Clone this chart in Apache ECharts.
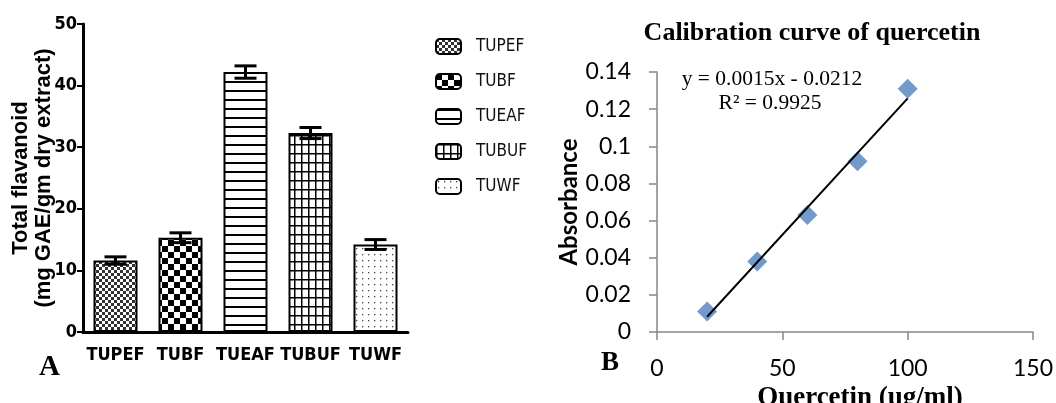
<!DOCTYPE html>
<html>
<head>
<meta charset="utf-8">
<script src="https://cdn.jsdelivr.net/npm/echarts@6/dist/echarts.min.js"></script>
<style>
  html, body { margin: 0; padding: 0; background: #fff; }
  #chart { width: 1056px; height: 403px; }
</style>
</head>
<body>
<div id="chart"></div>
<script>
// Panel A: total flavanoid content of the fractions (mean ± SD)
const categories = ['TUPEF', 'TUBF', 'TUEAF', 'TUBUF', 'TUWF'];
const flavMeans = [11.6, 15.3, 42.2, 32.3, 14.2];
const flavErrors = [0.6, 0.8, 1.0, 0.9, 0.8];
const flavTicks = { min: 0, max: 50, interval: 10 };

// Panel B: quercetin calibration standards
const conc = [20, 40, 60, 80, 100];
const absorb = [0.011, 0.038, 0.063, 0.092, 0.131];
const equationText = 'y = 0.0015x - 0.0212';
const r2Text = 'R² = 0.9925';

const narrow = "'DejaVu Sans Condensed', 'Liberation Sans Narrow', 'Arial Narrow', sans-serif";
const serif = "'Liberation Serif', 'DejaVu Serif', serif";
const sans = "Lato, 'Open Sans', 'Noto Sans', sans-serif";

// hatch fills for the bars
function makePattern(w, h, draw) {
  const c = document.createElement('canvas');
  c.width = w; c.height = h;
  const ctx = c.getContext('2d');
  ctx.fillStyle = '#fff';
  ctx.fillRect(0, 0, w, h);
  ctx.fillStyle = '#000';
  draw(ctx);
  return { image: c, repeat: 'repeat' };
}
const patterns = [
  // fine check
  makePattern(6, 6, ctx => { ctx.fillStyle = '#333'; ctx.fillRect(0, 0, 3, 3); ctx.fillRect(3, 3, 3, 3); }),
  // coarse checkerboard
  makePattern(12, 12, ctx => { ctx.fillRect(0, 0, 6, 6); ctx.fillRect(6, 6, 6, 6); }),
  // horizontal lines
  makePattern(9, 9, ctx => { ctx.fillRect(0, 0, 9, 2); }),
  // grid
  makePattern(7, 9, ctx => { ctx.fillRect(0, 0, 7, 1.5); ctx.fillRect(0, 0, 1.5, 9); }),
  // dots
  makePattern(6, 6, ctx => { ctx.fillStyle = '#444'; ctx.fillRect(2, 2, 1.3, 1.3); })
];

// least-squares trendline through the standards
function linFit(xs, ys) {
  const n = xs.length;
  const mx = xs.reduce((a, b) => a + b, 0) / n;
  const my = ys.reduce((a, b) => a + b, 0) / n;
  let sxy = 0, sxx = 0;
  for (let i = 0; i < n; i++) { sxy += (xs[i] - mx) * (ys[i] - my); sxx += (xs[i] - mx) ** 2; }
  const slope = sxy / sxx;
  return { slope, intercept: my - slope * mx };
}
const fit = linFit(conc, absorb);
const xFirst = conc[0], xLast = conc[conc.length - 1];
const trend = [[xFirst, fit.slope * xFirst + fit.intercept], [xLast, fit.slope * xLast + fit.intercept]];

const barSeries = categories.map((name, i) => ({
  name,
  type: 'bar',
  xAxisIndex: 0, yAxisIndex: 0,
  barWidth: 44,
  barGap: '-100%',
  data: categories.map((_, j) => (j === i ? flavMeans[i] : null)),
  itemStyle: { color: patterns[i], borderColor: '#000', borderWidth: 2 },
  silent: true,
  z: 2
}));

const errorSeries = {
  type: 'custom',
  xAxisIndex: 0, yAxisIndex: 0,
  data: flavMeans.map((m, i) => [i, m, flavErrors[i]]),
  z: 5,
  renderItem(params, api) {
    const x = api.value(0), m = api.value(1), e = api.value(2);
    const top = api.coord([x, m + e]);
    const bot = api.coord([x, m - e]);
    const half = 11;
    const st = { stroke: '#000', lineWidth: 3 };
    return {
      type: 'group',
      children: [
        { type: 'line', shape: { x1: top[0], y1: top[1], x2: bot[0], y2: bot[1] }, style: st },
        { type: 'line', shape: { x1: top[0] - half, y1: top[1], x2: top[0] + half, y2: top[1] }, style: st },
        { type: 'line', shape: { x1: bot[0] - half, y1: bot[1], x2: bot[0] + half, y2: bot[1] }, style: st }
      ]
    };
  }
};

const chart = echarts.init(document.getElementById('chart'), null, { renderer: 'canvas' });
chart.setOption({
  animation: false,
  backgroundColor: '#fff',
  grid: [
    { left: 83, top: 24, width: 325, height: 308, outerBoundsMode: 'none' },
    { left: 657, top: 72, width: 376, height: 260, outerBoundsMode: 'none' }
  ],
  legend: {
    orient: 'vertical',
    left: 430, top: 33,
    itemWidth: 25, itemHeight: 15, itemGap: 18,
    icon: 'roundRect',
    data: categories,
    itemStyle: { borderColor: '#000', borderWidth: 2 },
    textStyle: { fontFamily: narrow, fontSize: 17, lineHeight: 15, color: '#111', padding: [0, 0, 0, 10] }
  },
  xAxis: [
    {
      gridIndex: 0, type: 'category', data: categories,
      axisLine: { lineStyle: { color: '#000', width: 3 } },
      axisTick: { alignWithLabel: true, length: 7, lineStyle: { color: '#000', width: 2 } },
      axisLabel: { interval: 0, margin: 14, fontFamily: narrow, fontWeight: 'bold', fontSize: 18, color: '#000' }
    },
    {
      gridIndex: 1, type: 'value', min: 0, max: 150, interval: 50,
      splitLine: { show: false },
      axisLine: { lineStyle: { color: '#868686', width: 1.5 } },
      axisTick: { length: 8, lineStyle: { color: '#868686', width: 1.5 } },
      axisLabel: { margin: 25, fontFamily: sans, fontSize: 23, color: '#000' },
      name: 'Quercetin (ug/ml)', nameLocation: 'middle', nameGap: 51,
      nameTextStyle: { fontFamily: serif, fontWeight: 'bold', fontSize: 27, color: '#000', padding: [0, 0, 0, 30] }
    }
  ],
  yAxis: [
    {
      gridIndex: 0, type: 'value', min: flavTicks.min, max: flavTicks.max, interval: flavTicks.interval,
      splitLine: { show: false },
      axisLine: { show: true, lineStyle: { color: '#000', width: 3 } },
      axisTick: { show: true, length: 6, lineStyle: { color: '#000', width: 2 } },
      axisLabel: { margin: 6, fontFamily: narrow, fontWeight: 'bold', fontSize: 18, color: '#000' },
      name: 'Total flavanoid\n(mg GAE/gm dry extract)', nameLocation: 'middle', nameGap: 28, nameRotate: 90,
      nameMoveOverlap: false,
      nameTextStyle: { fontFamily: "'Liberation Sans', Arial, sans-serif", fontWeight: 'bold', fontSize: 22, lineHeight: 23, color: '#000' }
    },
    {
      gridIndex: 1, type: 'value', min: 0, max: 0.14, interval: 0.02,
      splitLine: { show: false },
      axisLine: { show: true, lineStyle: { color: '#868686', width: 1.5 } },
      axisTick: { show: true, length: 8, lineStyle: { color: '#868686', width: 1.5 } },
      axisLabel: { margin: 26, fontFamily: sans, fontSize: 23, color: '#000', formatter: v => String(+v.toFixed(2)) },
      name: 'Absorbance', nameLocation: 'middle', nameGap: 63, nameRotate: 90,
      nameTextStyle: { fontFamily: sans, fontWeight: 'bold', fontSize: 24, color: '#000' }
    }
  ],
  graphic: [
    { type: 'text', left: 39, top: 353, style: { text: 'A', font: 'bold 29px ' + serif, fill: '#000' } },
    { type: 'text', left: 601, top: 350, style: { text: 'B', font: 'bold 27px ' + serif, fill: '#000' } },
    { type: 'text', x: 812, y: 33, style: { text: 'Calibration curve of quercetin', font: 'bold 26px ' + serif, fill: '#000', textAlign: 'center', textVerticalAlign: 'middle' } },
    { type: 'text', x: 772, y: 79, style: { text: equationText, font: '21.5px ' + serif, fill: '#000', textAlign: 'center', textVerticalAlign: 'middle' } },
    { type: 'text', x: 770, y: 103, style: { text: r2Text, font: '21.5px ' + serif, fill: '#000', textAlign: 'center', textVerticalAlign: 'middle' } }
  ],
  series: [
    ...barSeries,
    errorSeries,
    {
      type: 'line', xAxisIndex: 1, yAxisIndex: 1,
      data: trend, showSymbol: false, symbol: 'none',
      lineStyle: { color: '#000', width: 2 }, z: 3, silent: true
    },
    {
      type: 'scatter', xAxisIndex: 1, yAxisIndex: 1,
      data: conc.map((x, i) => [x, absorb[i]]),
      symbol: 'diamond', symbolSize: [20, 20],
      itemStyle: { color: '#4F81BD' }, z: 2
    }
  ]
});
</script>
</body>
</html>
